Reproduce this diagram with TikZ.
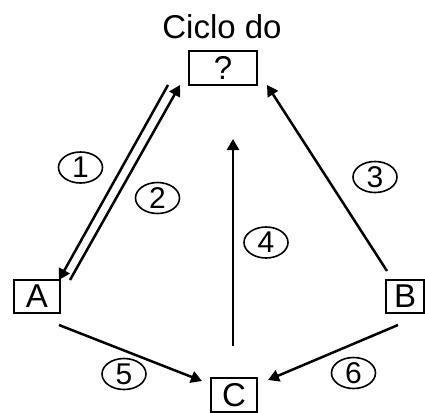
\documentclass[tikz,border=0pt]{standalone}
\usepackage{fontspec}
\setmainfont{Liberation Sans}
\usetikzlibrary{arrows.meta,shapes.geometric}
\begin{document}
\begin{tikzpicture}[x=1pt,y=-1pt,
  box/.style={draw, line width=1.7pt, inner sep=0pt, font=\fontsize{33}{33}\selectfont},
  num/.style={draw, ellipse, line width=1.6pt, minimum width=44pt, minimum height=31pt, inner sep=0pt, font=\fontsize{30}{30}\selectfont},
  conn/.style={line width=2.5pt, -{Triangle[length=11pt,width=12pt]}}]
\useasboundingbox (0,0) rectangle (425,412);
\node[font=\fontsize{33}{33}\selectfont] (title) at (222,27) {Ciclo do};
\node[box, minimum width=68pt, minimum height=34pt] (Q) at (223,68) {?};
\node[box, minimum width=46pt, minimum height=33pt] (A) at (37,296.5) {A};
\node[box, minimum width=38pt, minimum height=33pt] (B) at (405,296.5) {B};
\node[box, minimum width=46pt, minimum height=34pt] (C) at (234,395) {C};
\coordinate (q1) at (168,85);
\coordinate (a1) at (59,280);
\coordinate (a2) at (70,280);
\coordinate (q2) at (180,85);
\coordinate (b3) at (387,271);
\coordinate (q3) at (267,85);
\coordinate (c4) at (233,346);
\coordinate (t4) at (233,139);
\coordinate (a5) at (59,325);
\coordinate (c5) at (202,381);
\coordinate (b6) at (398,325);
\coordinate (c6) at (268,380);
\draw[conn] (q1) -- (a1);
\draw[conn] (a2) -- (q2);
\draw[conn] (b3) -- (q3);
\draw[conn] (c4) -- (t4);
\draw[conn] (a5) -- (c5);
\draw[conn] (b6) -- (c6);
\node[num] (n1) at (80.5,167.5) {1};
\node[num] (n2) at (157.5,198) {2};
\node[num] (n3) at (375,177) {3};
\node[num] (n4) at (266,242.5) {4};
\node[num] (n5) at (124,374) {5};
\node[num] (n6) at (353.5,373) {6};
\end{tikzpicture}
\end{document}
